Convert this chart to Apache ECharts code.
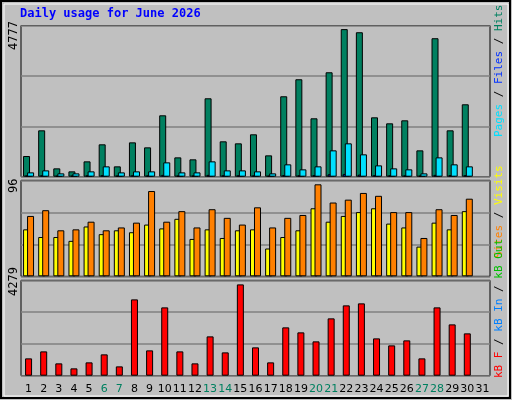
<!DOCTYPE html>
<html><head><meta charset="utf-8">
<script src="https://cdn.jsdelivr.net/npm/echarts@6/dist/echarts.min.js"></script>
<style>html,body{margin:0;padding:0;background:#c0c0c0}#c{width:512px;height:400px}</style>
</head><body><div id="c"></div>
<script>
const days = Array.from({length:31},(_,i)=>String(i+1));
const weekends = ['6','7','13','14','20','21','27','28'];
const hits  = [670,1501,270,173,497,1048,335,1112,950,1987,626,562,2538,1145,1080,1372,691,2603,3154,1890,3380,4777,4676,1922,1728,1825,853,4482,1501,2344,null];
const files = [140,205,108,108,173,335,140,173,173,464,140,140,497,205,205,173,108,400,238,335,853,1080,724,367,270,238,108,626,400,335,null];
const pages = [40,45,30,30,40,50,35,45,40,60,35,35,60,45,45,40,30,55,45,50,80,90,70,50,45,40,30,60,55,50,null];
const visits = [49,41,41,37,52,44,48,46,54,50,60,39,49,40,48,49,29,41,48,71,57,63,67,71,55,51,31,56,49,68,null];
const sites  = [63,69,48,49,57,48,51,56,89,57,68,51,70,61,54,72,51,61,64,96,77,80,87,84,67,67,40,70,64,81,null];
const kbytes = [812,1140,578,344,625,1000,437,3577,1187,3202,1140,578,1843,1093,4279,1328,625,2265,2031,1609,2687,3296,3390,1749,1421,1656,812,3202,2405,1984,null];
const maxLabels = ['4777','96','4279'];

const chart = echarts.init(document.getElementById('c'));
const grids = [
  {left:21,right:22,top:25.5,height:151.2},
  {left:21,right:22,top:180.3,height:96},
  {left:21,right:22,top:280.3,height:95.4}
].map(g=>Object.assign(g,{show:true,backgroundColor:'#c0c0c0',borderColor:'#000',borderWidth:1}));
const maxes=[4894,100.2,4471];
const xAxes=[0,1,2].map(i=>({type:'category',gridIndex:i,data:days,boundaryGap:true,
  axisLine:{show:false},axisTick:{show:false},
  axisLabel:i<2?{show:false}:{fontFamily:'DejaVu Sans',fontSize:11,margin:8,color:'#000',interval:0,
    formatter:v=>weekends.includes(v)?'{w|'+v+'}':v,rich:{w:{color:'#008060',fontFamily:'DejaVu Sans',fontSize:11}}}}));
const yAxes=[0,1,2].map(i=>({type:'value',gridIndex:i,min:0,max:maxes[i],interval:maxes[i]/3,
  axisLabel:{show:false},axisLine:{show:false},axisTick:{show:false},
  splitLine:{lineStyle:{color:'#808080',width:1.5}}}));
const bs={borderColor:'#000',borderWidth:1};
const series=[
  {type:'bar',xAxisIndex:0,yAxisIndex:0,data:hits,barWidth:7,barGap:'-71%',itemStyle:Object.assign({color:'#008060'},bs)},
  {type:'bar',xAxisIndex:0,yAxisIndex:0,data:pages,barWidth:7,barGap:'-71%',itemStyle:{color:'#0030ff',borderColor:'#000',borderWidth:1}},
  {type:'bar',xAxisIndex:0,yAxisIndex:0,data:files,barWidth:7,barGap:'-71%',itemStyle:Object.assign({color:'#00e0ff'},bs)},
  {type:'bar',xAxisIndex:1,yAxisIndex:1,data:visits,barWidth:7,barGap:'-43%',itemStyle:Object.assign({color:'#ffff00'},bs)},
  {type:'bar',xAxisIndex:1,yAxisIndex:1,data:sites,barWidth:7,barGap:'-43%',itemStyle:Object.assign({color:'#ff8000'},bs)},
  {type:'bar',xAxisIndex:2,yAxisIndex:2,data:kbytes,barWidth:7,itemStyle:Object.assign({color:'#ff0000'},bs)}
];
const mono='DejaVu Sans Mono';
const f='11px "'+mono+'"';
const graphic=[
  {type:'rect',shape:{x:1,y:1,width:509,height:397},style:{fill:'none',stroke:'#000',lineWidth:2},z:-1},
  {type:'rect',shape:{x:4,y:4,width:504,height:392},style:{fill:'none',stroke:'#fff',lineWidth:1},z:-1},
  {type:'text',left:20,top:8,style:{text:'Daily usage for June 2026',fill:'#0000ff',font:'bold 12px "'+mono+'"'}},
  {type:'text',x:8,y:50,rotation:Math.PI/2,style:{text:maxLabels[0],fill:'#000',font:'12px "'+mono+'"',align:'left',verticalAlign:'top'}},
  {type:'text',x:8,y:193,rotation:Math.PI/2,style:{text:maxLabels[1],fill:'#000',font:'12px "'+mono+'"',align:'left',verticalAlign:'top'}},
  {type:'text',x:8,y:296,rotation:Math.PI/2,style:{text:maxLabels[2],fill:'#000',font:'12px "'+mono+'"',align:'left',verticalAlign:'top'}},
  {type:'text',x:494,y:137,rotation:Math.PI/2,style:{text:'{a|Pages}{k| / }{b|Files}{k| / }{c|Hits}',font:f,align:'left',verticalAlign:'top',
    rich:{a:{fill:'#00e0ff',font:f},b:{fill:'#0030ff',font:f},c:{fill:'#008060',font:f},k:{fill:'#000',font:f}}}},
  {type:'text',x:494,y:258,rotation:Math.PI/2,style:{text:'{a|Sites}{k| / }{b|Visits}',font:f,align:'left',verticalAlign:'top',
    rich:{a:{fill:'#ff8000',font:f},b:{fill:'#ffff00',font:f},k:{fill:'#000',font:f}}}},
  {type:'text',x:494,y:378,rotation:Math.PI/2,style:{text:'{a|kB F}{k| / }{b|kB In}{k| / }{c|kB Out}',font:f,align:'left',verticalAlign:'top',
    rich:{a:{fill:'#ff0000',font:f},b:{fill:'#0080ff',font:f},c:{fill:'#00c000',font:f},k:{fill:'#000',font:f}}}}
];
chart.setOption({backgroundColor:'#c0c0c0',animation:false,grid:grids,xAxis:xAxes,yAxis:yAxes,series,graphic});
</script></body></html>
